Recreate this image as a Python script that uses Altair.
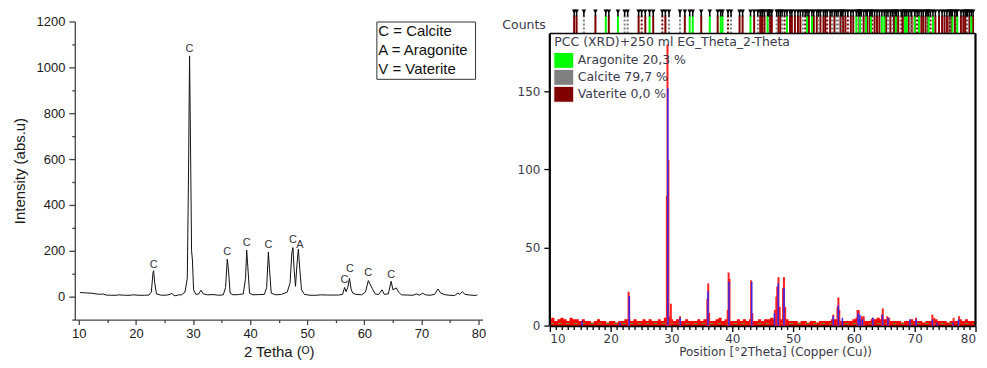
import altair as alt
import pandas as pd

# ================= LEFT PANEL DATA =================
left_2theta = [10.2, 10.8, 11.5, 12.3, 13.0, 13.8, 14.2, 14.8, 15.5, 16.5,
               17.0, 18.0, 19.0, 19.6, 20.5, 21.5, 22.3, 22.7, 23.0, 23.1,
               23.3, 23.6, 24.5, 25.5, 26.0, 26.3, 26.6, 27.0, 27.5, 28.0,
               28.6, 29.0, 29.2, 29.4, 29.55, 29.75, 29.9, 30.1, 30.5, 31.0,
               31.4, 31.8, 32.5, 33.5, 34.5, 35.3, 35.7, 36.0, 36.2, 36.5,
               37.0, 38.0, 38.8, 39.2, 39.4, 39.6, 39.9, 40.5, 41.5, 42.5,
               42.9, 43.2, 43.4, 43.7, 44.5, 45.5, 46.5, 47.0, 47.3, 47.5,
               47.7, 47.95, 48.2, 48.45, 48.7, 49.0, 49.5, 50.5, 51.5, 52.5,
               53.5, 54.5, 55.5, 56.2, 56.55, 56.8, 57.1, 57.4, 57.7, 58.0,
               58.5, 59.5, 60.2, 60.7, 61.0, 61.4, 61.9, 62.5, 63.1, 63.5,
               64.2, 64.7, 65.0, 65.6, 66.0, 66.5, 67.5, 68.5, 69.2, 69.6,
               70.2, 70.7, 71.5, 72.3, 72.9, 73.4, 74.2, 75.0, 75.8, 76.4,
               76.7, 77.2, 77.6, 78.5, 79.5, 79.8]
left_intensity = [18, 17, 16, 15, 12, 10, 12, 7, 6, 6,
                  8, 6, 6, 8, 6, 6, 7, 20, 105, 113,
                  60, 12, 6, 7, 10, 15, 6, 4, 8, 8,
                  20, 80, 500, 1050, 700, 200, 160, 30, 10, 12,
                  28, 12, 8, 9, 6, 8, 40, 164, 120, 15,
                  8, 9, 12, 80, 203, 130, 15, 8, 9, 10,
                  40, 195, 120, 15, 8, 10, 20, 60, 190, 214,
                  120, 45, 140, 207, 120, 30, 10, 6, 6, 8,
                  7, 7, 7, 10, 40, 22, 40, 80, 30, 15,
                  10, 8, 20, 70, 55, 35, 12, 9, 30, 10,
                  12, 67, 30, 38, 20, 8, 7, 6, 12, 6,
                  15, 8, 6, 10, 33, 15, 8, 6, 5, 15,
                  10, 22, 10, 7, 5, 8]
peak_label_x = [23.1, 29.4, 36.0, 39.4, 43.2, 47.5, 48.7, 56.5, 57.5, 60.7, 64.7]
peak_label_y = [138, 1080, 193, 236, 226, 246, 225, 72, 120, 101, 94]
peak_label_text = ["C", "C", "C", "C", "C", "C", "A", "C", "C", "C", "C"]
phase_key = ["C = Calcite", "A = Aragonite", "V = Vaterite"]
left_x_major = [10, 20, 30, 40, 50, 60, 70, 80]
left_x_minor = [15, 25, 35, 45, 55, 65, 75]
left_y_major = [0, 200, 400, 600, 800, 1000, 1200]
left_y_minor = [-100, 100, 300, 500, 700, 900, 1100]

# ================= RIGHT PANEL DATA =================
red_base_start = 10.0
red_base_step = 0.5
red_base_h = [4, 5, 3, 4, 5, 4, 3, 5, 4, 4,
              3, 4, 3, 3, 2, 3, 4, 3, 3, 2,
              3, 3, 2, 3, 3, 4, 4, 3, 4, 3,
              3, 4, 3, 4, 3, 3, 4, 3, 5, 6,
              4, 3, 4, 3, 3, 4, 3, 3, 3, 4,
              3, 4, 4, 3, 3, 4, 5, 3, 4, 3,
              3, 3, 4, 3, 4, 3, 4, 3, 3, 4,
              3, 4, 4, 5, 4, 5, 4, 3, 4, 3,
              3, 3, 2, 3, 3, 2, 3, 3, 2, 3,
              3, 3, 3, 4, 4, 3, 3, 3, 3, 3,
              4, 5, 4, 4, 3, 3, 4, 4, 5, 4,
              4, 4, 3, 3, 3, 3, 2, 3, 3, 4,
              3, 3, 3, 2, 3, 3, 3, 4, 3, 3,
              3, 2, 3, 3, 3, 4, 3, 4, 3, 3,
              3]
red_peak_x = [22.95, 23.05, 29.25, 29.35, 29.5, 29.9, 31.4, 35.9, 36.05, 36.2,
              39.25, 39.4, 39.55, 43.1, 43.3, 47.0, 47.25, 47.4, 47.6, 47.8,
              48.35, 48.5, 48.7, 56.6, 57.3, 57.45, 57.6, 60.6, 60.8, 61.3,
              61.6, 63.1, 64.6, 64.75, 65.5, 65.8, 70.2, 72.9, 73.2, 76.4, 77.3]
red_peak_h = [21.7, 19, 83, 180, 106, 14, 6, 17, 27, 8,
              10, 34, 30, 29, 8, 10, 18.5, 25, 31, 12,
              24, 31, 12, 7, 12, 18, 10, 10, 10, 6,
              6, 5, 7, 11, 6, 5, 5, 7, 5, 5, 6]
blue_x = [15.3, 21.5, 23.05, 29.4, 31.45, 36.0, 39.45, 43.2, 46.95, 47.55,
          48.5, 56.6, 57.45, 58.1, 60.7, 61.0, 61.4, 63.1, 64.7, 65.6,
          69.2, 70.25, 72.9, 73.7, 76.3, 77.2]
blue_h = [3, 2, 19, 152, 5, 22, 28, 28, 8, 27,
          24, 6, 13, 5, 8, 7, 4, 5, 7, 5,
          4, 4, 4, 2, 2, 4]
vaterite_sticks = [14.0, 14.4, 17.5, 19.7, 24.6, 25.7, 27.0, 29.0, 32.2, 34.9,
                   37.6, 41.2, 41.7, 43.6, 44.6, 44.9, 45.3, 46.2, 46.5, 47.6,
                   47.9, 49.5, 49.8, 50.3, 50.8, 51.2, 52.6, 53.4, 53.9, 54.5,
                   55.0, 55.3, 56.1, 56.8, 57.8, 58.2, 58.6, 59.5, 59.9, 60.9,
                   61.6, 62.2, 62.6, 63.4, 63.8, 64.2, 65.3, 66.0, 66.6, 67.0,
                   67.3, 68.0, 68.3, 69.0, 69.5, 70.0, 71.1, 71.4, 71.8, 72.2,
                   73.4, 74.0, 74.5, 74.9, 75.3, 75.7, 76.0, 76.6, 77.6, 78.0,
                   78.3, 79.0, 79.6]
vaterite_dotted = [25.1, 28.5, 39.3, 45.0, 48.6, 52.0, 55.6, 59.0, 63.0, 67.8,
                   70.4, 72.6, 76.9, 78.5]
calcite_sticks = [15.6, 22.3, 22.8, 29.6, 31.4, 39.8, 44.2, 46.0, 47.3, 48.2,
                  51.6, 54.2, 56.4, 57.1, 57.4, 58.0, 60.7, 61.2, 65.6, 66.3,
                  69.4, 72.0, 75.8, 78.7]
aragonite_sticks = [19.2, 21.2, 26.4, 33.0, 33.5, 36.3, 38.1, 38.4, 43.0, 45.8,
                    49.0, 52.3, 53.1, 60.4, 61.0, 62.0, 62.8, 64.6, 65.0, 66.9,
                    68.4, 68.7, 70.0, 70.7, 72.3, 73.0, 76.2, 77.0, 79.3]
right_title = "PCC (XRD)+250 ml EG_Theta_2-Theta"
right_key = ["Aragonite 20,3 %", "Calcite 79,7 %", "Vaterite 0,0 %"]
right_key_colors = ["#00ff00", "#808080", "#800000"]
right_x_major = [10, 20, 30, 40, 50, 60, 70]
right_x_last = [80]
right_x_minor = [v for v in range(11, 80) if v % 10 != 0]
right_y_major = [0, 50, 100, 150]

# ================= LEFT PANEL =================
LF = "Liberation Sans"
LW, LH = 409, 299
lx = alt.Scale(domain=[9.3, 80.7], nice=False, zero=False)
ly = alt.Scale(domain=[-100, 1200], nice=False, zero=False)


def laxis(**kw):
    base = dict(grid=False, domainColor="#444444", domainWidth=1.3, tickColor="#444444",
                tickWidth=1.3, labelFont=LF, labelFontSize=13, labelColor="#1a1a1a",
                titleFont=LF, titleFontSize=15, titleFontWeight="normal", titleColor="#1a1a1a")
    base.update(kw)
    return alt.Axis(**base)


left_df = pd.DataFrame({"t": left_2theta, "i": left_intensity})
left_line = alt.Chart(left_df).mark_line(color="#111111", strokeWidth=1).encode(
    x=alt.X("t:Q", scale=lx, axis=laxis(orient="bottom", values=left_x_major, tickSize=5,
                                        labelPadding=3, title="2 Tetha (ᴼ)", titlePadding=4, format="d")),
    y=alt.Y("i:Q", scale=ly, axis=laxis(orient="left", values=left_y_major, tickSize=6,
                                        labelPadding=4, title="Intensity (abs.u)", titlePadding=9, format="d")),
)
left_minor = alt.Chart(left_df).mark_point(opacity=0).encode(
    x=alt.X("t:Q", scale=lx, axis=laxis(orient="bottom", values=left_x_minor, tickSize=3,
                                        labels=False, domain=False, title=None)),
    y=alt.Y("i:Q", scale=ly, axis=laxis(orient="left", values=left_y_minor, tickSize=3,
                                        labels=False, domain=False, title=None)),
)
lab_df = pd.DataFrame({"lx": peak_label_x, "ly": peak_label_y, "txt": peak_label_text})
left_labels = alt.Chart(lab_df).mark_text(font=LF, fontSize=11, color="#333340", baseline="middle").encode(
    x=alt.X("lx:Q", scale=lx, axis=None),
    y=alt.Y("ly:Q", scale=ly, axis=None),
    text="txt:N",
)
one = pd.DataFrame({"a": [0]})
key_box = alt.Chart(one).mark_rect(fill="white", stroke="#333333", strokeWidth=1).encode(
    x=alt.value(303), x2=alt.value(402), y=alt.value(0.5), y2=alt.value(58)
)
key_text = alt.Chart(pd.DataFrame({"k": ["\n".join(phase_key)]})).mark_text(
    font=LF, fontSize=15, color="#111111", align="left", baseline="middle",
    lineBreak="\n", lineHeight=19
).encode(x=alt.value(304.5), y=alt.value(10), text="k:N")

left = alt.layer(left_line, left_minor, left_labels, key_box, key_text).resolve_axis(
    x="independent", y="independent").properties(width=LW, height=LH)

# ================= RIGHT PANEL =================
RF = "DejaVu Sans"
RW, RH = 427, 305
FRAME_TOP = 12
rx = alt.Scale(domain=[10, 80], nice=False, zero=False)
ry = alt.Scale(domain=[0, 194.8], nice=False, zero=False)
TXT = "#3a3a4a"


def raxis(**kw):
    base = dict(grid=False, domainColor="black", domainWidth=2.5, tickColor="black",
                tickWidth=1.3, labelFont=RF, labelFontSize=12, labelColor=TXT,
                titleFont=RF, titleFontSize=12, titleFontWeight="normal", titleColor=TXT)
    base.update(kw)
    return alt.Axis(**base)


base_x = [red_base_start + red_base_step * k for k in range(len(red_base_h))]
base_df = pd.DataFrame({"t": base_x, "h": red_base_h})
red_area = alt.Chart(base_df).mark_area(color="#ff0000", interpolate="step").encode(
    x=alt.X("t:Q", scale=rx, axis=raxis(orient="bottom", values=right_x_major, tickSize=6,
                                        labelPadding=2, format="d",
                                        title="Position [°2Theta] (Copper (Cu))",
                                        titlePadding=2, titleX=226)),
    y=alt.Y("h:Q", scale=ry, axis=raxis(orient="left", values=right_y_major, tickSize=6,
                                        labelPadding=4, domain=False, title=None, format="d")),
)
right_minor = alt.Chart(base_df).mark_point(opacity=0).encode(
    x=alt.X("t:Q", scale=rx, axis=raxis(orient="bottom", values=right_x_minor, tickSize=4,
                                        labels=False, domain=False, title=None)),
    y=alt.Y("h:Q", scale=ry, axis=None),
)
right_last = alt.Chart(base_df).mark_point(opacity=0).encode(
    x=alt.X("t:Q", scale=rx, axis=raxis(orient="bottom", values=right_x_last, tickSize=6,
                                        labelPadding=2, labelAlign="right",
                                        domain=False, title=None, format="d")),
    y=alt.Y("h:Q", scale=ry, axis=None),
)
resid = alt.Chart(one).mark_rule(color="#6b8e23", strokeWidth=1, strokeDash=[4, 4]).encode(
    x=alt.value(0), x2=alt.value(RW), y=alt.value(RH - 2))
red_peaks = alt.Chart(pd.DataFrame({"t": red_peak_x, "h": red_peak_h})).mark_rule(
    color="#ff2020", strokeWidth=2).encode(
    x=alt.X("t:Q", scale=rx, axis=None), y=alt.Y("h:Q", scale=ry, axis=None), y2=alt.datum(0))
blue_sticks = alt.Chart(pd.DataFrame({"t": blue_x, "h": blue_h})).mark_rule(
    color="#2a2aff", strokeWidth=1.6, opacity=0.9).encode(
    x=alt.X("t:Q", scale=rx, axis=None), y=alt.Y("h:Q", scale=ry, axis=None), y2=alt.datum(0))


def sticks(vals, color, dash=None):
    kw = dict(color=color, strokeWidth=2)
    if dash:
        kw["strokeDash"] = dash
    return alt.Chart(pd.DataFrame({"t": vals})).mark_rule(**kw).encode(
        x=alt.X("t:Q", scale=rx, axis=None), y=alt.value(-6), y2=alt.value(FRAME_TOP))


all_sticks = vaterite_sticks + vaterite_dotted + calcite_sticks + aragonite_sticks
caps = alt.Chart(pd.DataFrame({"t": all_sticks})).mark_point(
    shape="triangle-down", filled=True, size=22, color="black", opacity=1).encode(
    x=alt.X("t:Q", scale=rx, axis=None), y=alt.value(-10))
cap_stems = alt.Chart(pd.DataFrame({"t": all_sticks})).mark_rule(color="black", strokeWidth=1.5).encode(
    x=alt.X("t:Q", scale=rx, axis=None), y=alt.value(-11), y2=alt.value(-5))

frame_left = alt.Chart(one).mark_rule(color="black", strokeWidth=2.2).encode(
    x=alt.value(0), y=alt.value(FRAME_TOP), y2=alt.value(RH))
frame_top = alt.Chart(one).mark_rule(color="black", strokeWidth=1.5).encode(
    x=alt.value(0), x2=alt.value(RW), y=alt.value(FRAME_TOP))
frame_right = alt.Chart(one).mark_rule(color="black", strokeWidth=2.2).encode(
    x=alt.value(RW), y=alt.value(FRAME_TOP), y2=alt.value(RH))

counts = alt.Chart(pd.DataFrame({"c": ["Counts"]})).mark_text(
    font=RF, fontSize=12.5, color=TXT, align="right", baseline="middle").encode(
    x=alt.value(-4), y=alt.value(4), text="c:N")
title_in = alt.Chart(pd.DataFrame({"c": [right_title]})).mark_text(
    font=RF, fontSize=12.5, color=TXT, align="left", baseline="middle").encode(
    x=alt.value(4.5), y=alt.value(21), text="c:N")

key_layers = []
for k, (lbl, col) in enumerate(zip(right_key, right_key_colors)):
    yc = 39 + 17 * k
    key_layers.append(alt.Chart(one).mark_rect(fill=col, stroke="white", strokeWidth=1).encode(
        x=alt.value(4), x2=alt.value(24), y=alt.value(yc - 8), y2=alt.value(yc + 8)))
    key_layers.append(alt.Chart(pd.DataFrame({"c": [lbl]})).mark_text(
        font=RF, fontSize=12.5, color=TXT, align="left", baseline="middle").encode(
        x=alt.value(28), y=alt.value(yc), text="c:N"))

right = alt.layer(
    red_area, right_minor, right_last, resid, red_peaks, blue_sticks,
    sticks(vaterite_sticks, "#800000"),
    sticks(vaterite_dotted, "#800000", [2, 2]),
    sticks(calcite_sticks, "#808080", [2, 2]),
    sticks(aragonite_sticks, "#00ff00"),
    cap_stems, caps,
    frame_left, frame_top, frame_right, counts, title_in, *key_layers
).resolve_axis(x="independent", y="independent").properties(width=RW, height=RH)

chart = alt.hconcat(left, right, spacing=67.5, bounds="flush").properties(
    padding={"left": 3, "top": 0, "right": 0, "bottom": 0}
).configure_view(stroke="transparent")

chart.save("out.html", embed_options={"renderer": "svg", "actions": False})
